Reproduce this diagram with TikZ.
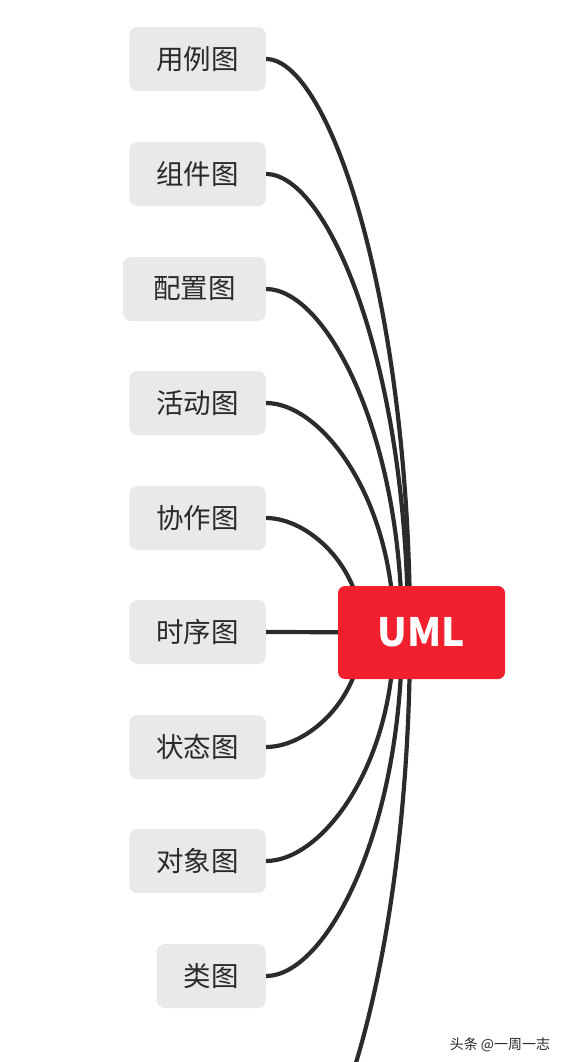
\documentclass[tikz,border=0pt]{standalone}
\usepackage{fontspec}
\setmainfont{Noto Sans CJK SC}
\usetikzlibrary{backgrounds}
\definecolor{boxgray}{HTML}{E9E9E9}
\definecolor{txtgray}{HTML}{2A2A2A}
\definecolor{linegray}{HTML}{2B2B2B}
\definecolor{umlred}{HTML}{F0202F}
\begin{document}
\begin{tikzpicture}[x=1pt,y=-1pt,
        item/.style={fill=boxgray,rounded corners=8pt,anchor=east,
            minimum height=64pt,inner xsep=27pt,inner ysep=0pt,
            text=txtgray,font=\fontsize{27.5}{31}\selectfont},
        root/.style={fill=umlred,rounded corners=7pt,minimum width=167pt,
            minimum height=93pt,text=white,font=\fontsize{39}{44}\selectfont\bfseries},
        link/.style={draw=linegray,line width=4.2pt}]
    \useasboundingbox (0,0) rectangle (566,1062);

    \node[root] (uml) at (421.5,632.5) {UML};

    % children, right edges lined up
    \node[item] (yl) at (266,59) {用例图};
    \node[item] (zj) at (266,174) {组件图};
    \node[item,minimum width=143pt] (pz) at (266,289) {配置图};
    \node[item] (hd) at (266,403) {活动图};
    \node[item] (xz) at (266,518) {协作图};
    \node[item] (sx) at (266,632) {时序图};
    \node[item] (zt) at (266,747) {状态图};
    \node[item] (dx) at (266,861) {对象图};
    \node[item] (lt) at (266,976) {类图};
    \coordinate (hid) at (266,1205);

    \node[text=txtgray,font=\fontsize{14}{16}\selectfont] (wm) at (500,1045) {头条 @一周一志};

    \begin{scope}[on background layer]
    \foreach \n/\s/\a/\b in {yl.east/-11.5/63/332, zj.east/-13.5/62.5/266,
            pz.east/-19.5/60/199, hd.east/-27.5/56/133, xz.east/-59.5/42/66}
        \draw[link] (\n) .. controls +(\a,0) and +(0,-\b) .. ([xshift=\s pt]uml.center);
    \foreach \n/\s/\a/\b in {zt.east/-59.5/42/66, dx.east/-27.5/56/133,
            lt.east/-19.5/60/199, hid/-11.5/63/332}
        \draw[link] (\n) .. controls +(\a,0) and +(0,\b) .. ([xshift=\s pt]uml.center);
    \draw[link] (sx.east) -- (uml);
    \end{scope}
\end{tikzpicture}
\end{document}
